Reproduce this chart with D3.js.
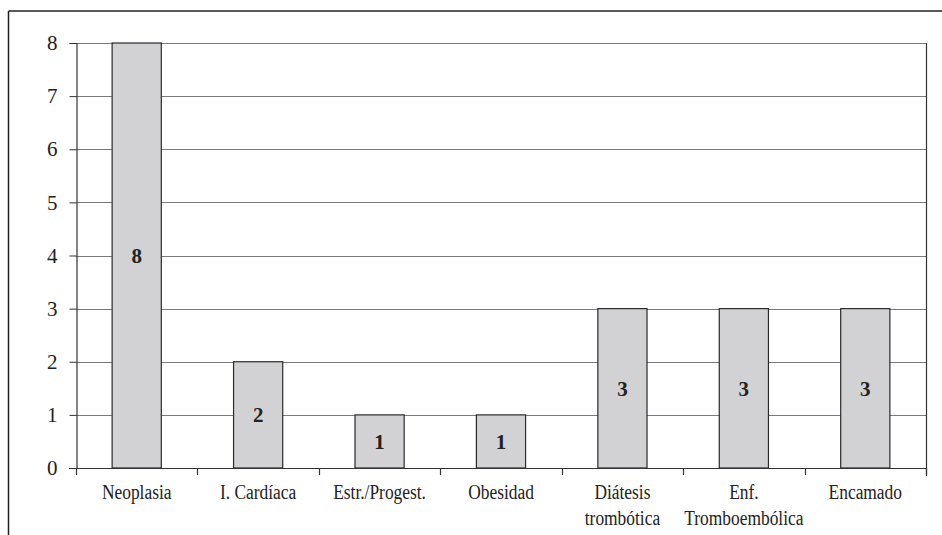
<!DOCTYPE html>
<html><head><meta charset="utf-8">
<script src="https://cdn.jsdelivr.net/npm/d3@7"></script>
<style>html,body{margin:0;padding:0;background:#fff;} svg{display:block;} svg text{font-family:"Liberation Serif","Times New Roman","DejaVu Serif",serif;}</style>
</head><body>
<svg id="c" width="942" height="535"></svg>
<script>
const categories = ["Neoplasia", "I. Cardíaca", "Estr./Progest.", "Obesidad", "Diátesis\ntrombótica", "Enf.\nTromboembólica", "Encamado"];
const values = [8, 2, 1, 1, 3, 3, 3];
const yTicks = [0, 1, 2, 3, 4, 5, 6, 7, 8];

const svg = d3.select("#c");
const m = {left: 76, right: 926, top: 43, bottom: 468};
const FS = 20, SX = 0.87;

// outer frame (top + left)
svg.append("line").attr("x1", 8.5).attr("x2", 942).attr("y1", 11).attr("y2", 11).attr("stroke", "#222").attr("stroke-width", 1.5);
svg.append("line").attr("x1", 8.5).attr("x2", 8.5).attr("y1", 11).attr("y2", 535).attr("stroke", "#222").attr("stroke-width", 1.5);

const x = d3.scaleBand().domain(categories).range([m.left, m.right]).padding(0);
const y = d3.scaleLinear().domain([0, 8]).range([m.bottom, m.top]);

// gridlines
svg.append("g").selectAll("line").data(yTicks.filter(d => d > 0)).join("line")
  .attr("x1", m.left).attr("x2", m.right)
  .attr("y1", d => Math.round(y(d)) + 0.5).attr("y2", d => Math.round(y(d)) + 0.5)
  .attr("stroke", "#7a7a7a").attr("stroke-width", 1);

// right plot border
svg.append("line").attr("x1", m.right + 0.5).attr("x2", m.right + 0.5)
  .attr("y1", m.top).attr("y2", m.bottom + 8).attr("stroke", "#333").attr("stroke-width", 1.2);

// bars
const bw = x.bandwidth() * 0.405;
svg.append("g").selectAll("rect").data(values).join("rect")
  .attr("x", (d, i) => x(categories[i]) + (x.bandwidth() - bw) / 2)
  .attr("y", d => y(d))
  .attr("width", bw)
  .attr("height", d => y(0) - y(d))
  .attr("fill", "#d2d2d4").attr("stroke", "#2a2a2a").attr("stroke-width", 1.2);

// value labels
svg.append("g").selectAll("text").data(values).join("text")
  .attr("x", (d, i) => x(categories[i]) + x.bandwidth() / 2)
  .attr("y", d => (y(d) + y(0)) / 2)
  .attr("text-anchor", "middle").attr("dy", "0.35em")
  .style("font-size", "21px").style("font-weight", "bold").attr("fill", "#222")
  .text(d => d);

// y axis
const yAxis = d3.axisLeft(y).tickValues(yTicks).tickSize(7).tickPadding(12).tickFormat(d3.format("d"));
const gy = svg.append("g").attr("transform", `translate(${m.left + 0.5},0)`).call(yAxis);
gy.attr("font-family", null).attr("font-size", null);
gy.select(".domain").attr("stroke", "#333").attr("stroke-width", 1.2);
gy.selectAll(".tick line").attr("stroke", "#333");
gy.selectAll(".tick text").style("font-size", "21px").attr("fill", "#222").attr("x", -19);

// x axis line + ticks at band boundaries
const boundaries = categories.map(c => x(c)).concat([m.right]);
svg.append("line").attr("x1", m.left - 7).attr("x2", m.right)
  .attr("y1", m.bottom + 0.5).attr("y2", m.bottom + 0.5).attr("stroke", "#333").attr("stroke-width", 1.2);
svg.append("g").selectAll("line").data(boundaries).join("line")
  .attr("x1", d => Math.round(d) + 0.5).attr("x2", d => Math.round(d) + 0.5)
  .attr("y1", m.bottom).attr("y2", m.bottom + 7).attr("stroke", "#333").attr("stroke-width", 1.2);

// category labels
const lab = svg.append("g").selectAll("text").data(categories).join("text")
  .attr("transform", d => `translate(${x(d) + x.bandwidth() / 2},499) scale(${SX},1)`)
  .attr("text-anchor", "middle")
  .style("font-size", FS + "px").attr("fill", "#222");
lab.each(function(d) {
  const lines = d.split("\n");
  d3.select(this).selectAll("tspan").data(lines).join("tspan")
    .attr("x", 0).attr("y", (l, i) => i * 26).text(l => l);
});
</script>
</body></html>
